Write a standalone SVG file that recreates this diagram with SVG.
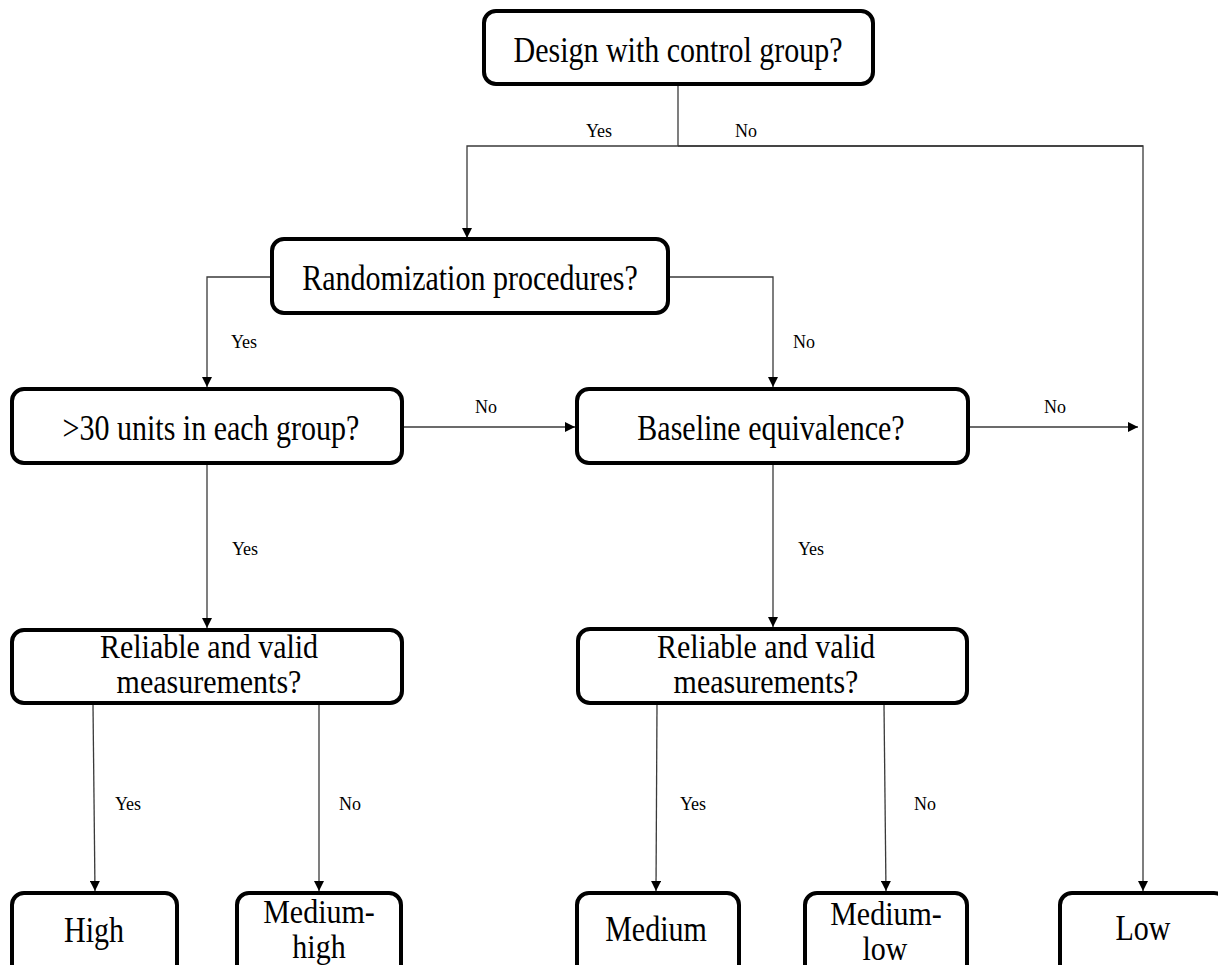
<svg xmlns="http://www.w3.org/2000/svg" width="1218" height="965" viewBox="0 0 1218 965">
<style>
.box{fill:#fff;stroke:#000;stroke-width:4}
.t{font-family:"Liberation Serif","Times New Roman",serif;font-size:30px;fill:#000;text-anchor:middle}
.lbl{font-family:"Liberation Serif","Times New Roman",serif;font-size:18px;fill:#000;text-anchor:middle}
.c{fill:none;stroke:#3a3a3a;stroke-width:1.3}
</style>
<defs>
<marker id="ah" markerUnits="userSpaceOnUse" markerWidth="10" markerHeight="10" refX="10" refY="5" orient="auto">
<path d="M0,0 L10,5 L0,10 z" fill="#000"/>
</marker>
</defs>
<rect width="1218" height="965" fill="#fff"/>
<g id="connectors">
<path class="c" d="M678,86 V146"/>
<path class="c" d="M1143,146 H467 V238" marker-end="url(#ah)"/>
<path class="c" d="M678,146 H1143 V891" marker-end="url(#ah)"/>
<path class="c" d="M270,277 H207 V387" marker-end="url(#ah)"/>
<path class="c" d="M668,277 H773 V387" marker-end="url(#ah)"/>
<path class="c" d="M404,427 H575" marker-end="url(#ah)"/>
<path class="c" d="M970,427 H1138" marker-end="url(#ah)"/>
<path class="c" d="M207,465 V628" marker-end="url(#ah)"/>
<path class="c" d="M773,465 V627" marker-end="url(#ah)"/>
<path class="c" d="M93,705 L95,891" marker-end="url(#ah)"/>
<path class="c" d="M319,705 V891" marker-end="url(#ah)"/>
<path class="c" d="M657,705 L656,891" marker-end="url(#ah)"/>
<path class="c" d="M884,705 L886,891" marker-end="url(#ah)"/>
<text class="lbl" x="599" y="137">Yes</text>
<text class="lbl" x="746" y="137">No</text>
<text class="lbl" x="244" y="348">Yes</text>
<text class="lbl" x="804" y="348">No</text>
<text class="lbl" x="486" y="413">No</text>
<text class="lbl" x="1055" y="413">No</text>
<text class="lbl" x="245" y="555">Yes</text>
<text class="lbl" x="811" y="555">Yes</text>
<text class="lbl" x="128" y="810">Yes</text>
<text class="lbl" x="350" y="810">No</text>
<text class="lbl" x="693" y="810">Yes</text>
<text class="lbl" x="925" y="810">No</text>
</g>
<g id="n-design">
<rect class="box" x="484" y="11" width="389" height="73" rx="12"/>
<text class="t" transform="translate(678,62) scale(1,1.22)">Design with control group?</text>
</g>
<g id="n-random">
<rect class="box" x="272" y="239" width="396" height="74" rx="12"/>
<text class="t" transform="translate(470,290) scale(1,1.22)">Randomization procedures?</text>
</g>
<g id="n-units">
<rect class="box" x="12" y="389" width="390" height="74" rx="12"/>
<text class="t" transform="translate(211,440) scale(1,1.22)">&gt;30 units in each group?</text>
</g>
<g id="n-baseline">
<rect class="box" x="577" y="389" width="391" height="74" rx="12"/>
<text class="t" transform="translate(771,440) scale(1,1.22)">Baseline equivalence?</text>
</g>
<g id="n-reliable-left">
<rect class="box" x="12" y="630" width="390" height="73" rx="12"/>
<text class="t" transform="translate(209,658) scale(1,1.14)">Reliable and valid</text>
<text class="t" transform="translate(209,693) scale(1,1.14)">measurements?</text>
</g>
<g id="n-reliable-right">
<rect class="box" x="578" y="629" width="389" height="74" rx="12"/>
<text class="t" transform="translate(766,658) scale(1,1.14)">Reliable and valid</text>
<text class="t" transform="translate(766,693) scale(1,1.14)">measurements?</text>
</g>
<g id="n-high">
<rect class="box" x="12" y="893" width="165" height="100" rx="12"/>
<text class="t" transform="translate(94,942) scale(1,1.22)">High</text>
</g>
<g id="n-medium-high">
<rect class="box" x="237" y="893" width="164" height="100" rx="12"/>
<text class="t" transform="translate(319,923) scale(1,1.14)">Medium-</text>
<text class="t" transform="translate(319,958) scale(1,1.14)">high</text>
</g>
<g id="n-medium">
<rect class="box" x="577" y="893" width="162" height="100" rx="12"/>
<text class="t" transform="translate(656,941) scale(1,1.22)">Medium</text>
</g>
<g id="n-medium-low">
<rect class="box" x="805" y="893" width="162" height="100" rx="12"/>
<text class="t" transform="translate(886,925) scale(1,1.14)">Medium-</text>
<text class="t" transform="translate(885,960) scale(1,1.14)">low</text>
</g>
<g id="n-low">
<rect class="box" x="1060" y="893" width="166" height="100" rx="12"/>
<text class="t" transform="translate(1143,940) scale(1,1.22)">Low</text>
</g>
</svg>
